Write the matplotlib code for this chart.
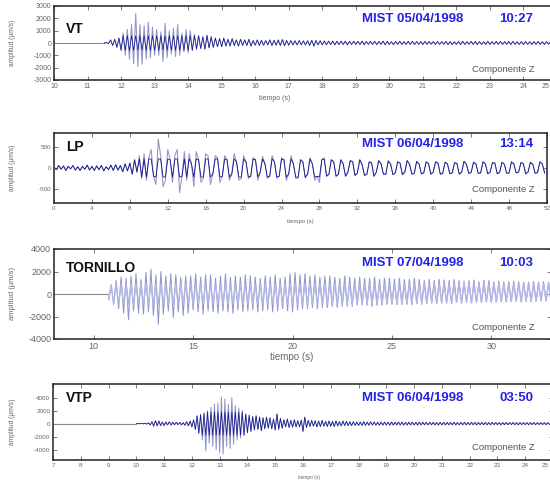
import matplotlib
matplotlib.use('Agg')
import matplotlib.pyplot as plt
import matplotlib.transforms as mtransforms
import numpy as np

plt.rcParams['font.family'] = ['Liberation Sans', 'DejaVu Sans']
plt.rcParams['axes.unicode_minus'] = False

W, H = 550, 483
LIGHT = '#9196c6'
DARK = '#16168c'
LAVENDER = '#b3b7e6'
BASE = '#8a8a8a'
TICKC = '#666666'

# --- VT, 05/04/1998 10:27 ---------------------------------------------
vt_onset = 11.5
vt_dt = 0.0625
vt_trace = [
    0, 30, -50, 250, -200, 300, -350, 400, -600, 800, -1000, 1100, -1300, 1500, -1700, 2400,
    -1900, 1500, -1700, 1400, -1300, 1700, -1200, 1300, -1000, 1100, -1000, 900, -1500, 1600, -1200, 1000,
    -900, 1200, -1100, 1500, -1000, 800, -700, 1100, -800, 1000, -600, 700, -500, 600, -450, 500,
    -500, 650, -400, 500, -350, 400, -300, 350, -300, 400, -250, 300, -250, 350, -200, 250,
    -250, 300, -200, 250, -200, 300, -250, 200, -180, 250, -200, 220, -180, 200, -150, 250,
    -200, 220, -180, 250, -200, 280, -220, 200, -180, 200, -150, 180, -160, 200, -150, 170,
    -150, 180, -200, 220, -250, 200, -150, 180, -150, 160, -140, 150, -130, 160, -150, 140,
    -130, 150, -120, 140, -150, 130, -120, 140, -110, 130, -120, 150, -140, 120, -110, 130,
    -120, 140, -130, 120, -110, 150, -140, 130, -120, 110, -130, 120, -110, 140, -120, 110,
    -110, 130, -120, 140, -130, 120, -110, 100, -120, 130, -110, 120, -100, 110, -120, 130,
    -120, 110, -100, 120, -130, 110, -120, 100, -110, 120, -130, 140, -120, 110, -100, 120,
    -110, 120, -130, 110, -120, 100, -110, 130, -120, 110, -100, 120, -110, 130, -120, 110,
    -100, 110, -120, 130, -110, 100, -120, 110, -130, 120, -110, 100, -120, 110, -100, 120,
    -110, 100, -120, 110, -100, 120, -110, 100, -90, 110, -100, 90, -110, 100, -90, 100,
]

# --- LP, 06/04/1998 13:14 ---------------------------------------------
lp_onset = 0.0
lp_dt = 0.25
lp_trace = [
    20, -40, 60, -30, 50, -60, 40, -20,
    60, -50, 30, -60, 40, -30, 70, -50,
    40, -60, 50, -40, 60, -70, 30, -40,
    70, -60, 80, -50, 60, -90, 100, -70,
    120, -150, 200, -100, 300, -250, 350, -300,
    250, 450, -200, -400, 700, 300, -450, -300,
    450, 200, -350, 300, 450, -600, -200, 400,
    -300, 350, 100, -450, 400, 200, -350, -250,
    350, 300, -400, -150, 300, 250, -350, -200,
    300, 200, -300, -150, 350, 150, -300, -250,
    300, 150, -250, -200, 250, 200, -300, -100,
    280, 100, -250, -200, 300, 150, -250, -200,
    250, 200, -300, -150, 300, 100, -250, -250,
    200, 150, -250, -150, 250, 100, -300, -200,
    -350, 200, 250, -200, -150, 200, 150, -200,
    -150, 200, 100, -200, -100, 180, 150, -180,
    -120, 200, 80, -180, -150, 150, 120, -200,
    -100, 180, 100, -150, -150, 170, 100, -160,
    -120, 150, 120, -160, -100, 180, 90, -150,
    -130, 160, 100, -140, -120, 150, 110, -150,
    -100, 150, 120, -150, -130, 140, 100, -140,
    -120, 130, 110, -150, -100, 160, 90, -130,
    -110, 140, 100, -130, -120, 150, 100, -140,
    -100, 130, 120, -140, -110, 140, 90, -130,
    -120, 150, 100, -120, -100, 130, 110, -140,
    -100, 140, 90, -130, -110, 150, 100, -120,
]

# --- TORNILLO, 07/04/1998 10:03 ---------------------------------------
tor_onset = 10.75
tor_dt = 0.125
tor_trace = [
    -500, 800, -900, 1200, -1300, 1500, -1700, 1400,
    -2300, 1600, -1500, 1800, -1700, 1300, -1800, 1900,
    -1600, 2200, -1900, 1700, -2700, 2000, -1800, 1600,
    -1500, 1800, -2100, 1700, -1600, 1500, -1900, 1600,
    -1700, 1600, -1400, 1800, -1600, 1500, -1800, 1700,
    -1500, 1700, -1600, 1400, -1700, 1600, -1500, 1800,
    -1600, 1500, -1700, 1600, -1400, 1500, -1600, 1700,
    -1500, 1600, -1400, 1500, -1600, 1400, -1500, 1600,
    -1400, 1500, -1600, 1700, -1500, 1400, -1300, 1500,
    -1500, 1800, -1600, 1900, -1400, 1700, -1300, 1800,
    -1300, 1600, -1200, 1700, -1300, 1500, -1200, 1600,
    -1200, 1600, -1100, 1500, -1200, 1400, -1100, 1600,
    -1100, 1500, -1100, 1400, -1000, 1500, -1000, 1400,
    -1000, 1400, -1100, 1500, -1000, 1300, -1000, 1400,
    -900, 1400, -900, 1300, -950, 1400, -900, 1300,
    -900, 1300, -950, 1400, -850, 1300, -900, 1200,
    -850, 1300, -800, 1200, -850, 1300, -800, 1250,
    -800, 1200, -850, 1300, -750, 1200, -800, 1150,
    -750, 1200, -800, 1250, -750, 1100, -750, 1200,
    -700, 1200, -750, 1100, -700, 1150, -700, 1100,
    -700, 1100, -650, 1150, -650, 1100, -700, 1050,
    -650, 1050, -700, 1100, -650, 1050, -600, 1100,
    -600, 1050, -600, 1000, -650, 1050, -600, 1000,
]

# --- VTP, 06/04/1998 03:50 --------------------------------------------
vtp_onset = 10.0
vtp_dt = 0.0625
vtp_trace = [
    0, 20, -30, 50, -40, 60, -80, 120, -200, 300, -400, 450, -350, 400, -300, 250,
    -300, 250, -200, 280, -220, 200, -180, 220, -150, 180, -200, 150, -250, 300, -350, 400,
    -500, 600, -900, 1200, -1500, 1400, -2500, 1600, -4200, 2000, -3000, 2500, -3500, 3000, -4000, 3200,
    -4500, 4100, -4700, 3800, -3500, 3000, -3800, 4000, -3200, 2800, -2500, 2400, -2200, 2000, -1800, 1500,
    -1400, 1300, -1200, 1100, -1000, 1200, -900, 1000, -1100, 900, -800, 1000, -700, 900, -800, 700,
    -1000, 1500, -900, 800, -700, 600, -500, 700, -600, 500, -550, 600, -500, 450, -500, 550,
    -1200, 1000, -600, 500, -450, 500, -400, 450, -500, 400, -450, 500, -400, 350, -450, 400,
    -400, 350, -450, 400, -350, 300, -350, 400, -300, 350, -300, 280, -320, 300, -280, 260,
    -300, 250, -280, 300, -260, 240, -250, 270, -230, 250, -240, 220, -250, 230, -220, 240,
    -220, 230, -240, 250, -230, 220, -200, 240, -210, 220, -230, 200, -210, 220, -200, 210,
    -210, 200, -220, 230, -200, 210, -190, 220, -210, 200, -190, 210, -200, 190, -210, 200,
    -200, 190, -210, 200, -180, 200, -190, 210, -200, 180, -190, 200, -180, 190, -200, 180,
    -190, 200, -180, 190, -200, 180, -170, 190, -180, 200, -190, 170, -180, 190, -170, 180,
    -180, 170, -190, 180, -170, 190, -180, 170, -160, 180, -170, 160, -180, 170, -160, 170,
    -170, 160, -180, 170, -160, 180, -170, 160, -150, 170, -160, 150, -170, 160, -150, 160,
]

panel_names = ['VT', 'LP', 'TORNILLO', 'VTP']
panel_dates = ['MIST 05/04/1998', 'MIST 06/04/1998', 'MIST 07/04/1998', 'MIST 06/04/1998']
panel_hours = ['10:27', '13:14', '10:03', '03:50']

fig = plt.figure(figsize=(W / 100, H / 100), dpi=100)


def px_axes(left, top, right, bottom):
    return fig.add_axes([left / W, 1 - bottom / H, (right - left) / W, (bottom - top) / H])


def px_text(x, y, s, **kw):
    fig.text(x / W, 1 - y / H, s, **kw)


def draw_trace(ax, xmin, onset, dt, trace, band, band_color, band_lw):
    t = onset + dt * np.arange(len(trace))
    if onset > xmin:
        ax.plot([xmin, onset], [0, 0], color=BASE, lw=0.8, zorder=2)
    ax.plot(t, trace, color=LIGHT, lw=0.75, zorder=3)
    # the dense middle of the record prints darker, like overlapping ink
    ax.plot(t, np.clip(trace, -band, band), color=band_color, lw=band_lw, zorder=4)


def style(ax, xlim, ylim, xticks, yticks, fs):
    ax.set_xlim(xlim)
    ax.set_ylim(ylim)
    ax.set_xticks(xticks)
    ax.set_yticks(yticks)
    ax.tick_params(direction='in', top=True, right=True, length=3, width=0.6,
                   color=TICKC, labelcolor=TICKC, labelsize=fs, pad=2)
    for sp in ax.spines.values():
        sp.set_linewidth(1.1)
        sp.set_color('#222222')


def pull_last_label(ax, dx_px):
    lbl = ax.get_xticklabels()[-1]
    lbl.set_horizontalalignment('right')
    lbl.set_transform(lbl.get_transform()
                      + mtransforms.ScaledTranslation(dx_px / 100, 0, fig.dpi_scale_trans))


# panel boxes in pixels: left, top, right, bottom
boxes = [(54, 6, 557, 80), (54, 133, 547, 203), (54, 249, 551, 339), (53, 384, 553, 460)]

ax1 = px_axes(*boxes[0])
draw_trace(ax1, 10, vt_onset, vt_dt, vt_trace, 600, DARK, 0.5)
style(ax1, (10, 25), (-3000, 3000), np.arange(10, 26, 1), np.arange(-3000, 3001, 1000), 5)
pull_last_label(ax1, -8)

ax2 = px_axes(*boxes[1])
draw_trace(ax2, 0, lp_onset, lp_dt, lp_trace, 220, DARK, 0.6)
style(ax2, (0, 52), (-850, 850), np.arange(0, 53, 4), [-500, 0, 500], 4.5)

ax3 = px_axes(*boxes[2])
draw_trace(ax3, 8, tor_onset, tor_dt, tor_trace, 900, LAVENDER, 1.0)
style(ax3, (8, 33), (-4000, 4000), [10, 15, 20, 25, 30], np.arange(-4000, 4001, 2000), 6.5)

ax4 = px_axes(*boxes[3])
draw_trace(ax4, 7, vtp_onset, vtp_dt, vtp_trace, 1800, DARK, 0.5)
style(ax4, (7, 25), (-5600, 6100), np.arange(7, 26, 1), np.arange(-4000, 4001, 2000), 4.5)
pull_last_label(ax4, -4)

# labels inside each panel
name_y = [29, 147, 268, 398]
date_y = [19, 144, 263, 398]
comp_y = [70, 189, 328, 448]
for i in range(4):
    px_text(66, name_y[i], panel_names[i], fontsize=10, fontweight='bold',
            color='#111111', va='center', ha='left')
    px_text(362, date_y[i], panel_dates[i], fontsize=9.5, fontweight='bold',
            color='#2323e6', va='center', ha='left')
    px_text(533, date_y[i], panel_hours[i], fontsize=9.5, fontweight='bold',
            color='#2323e6', va='center', ha='right')
    px_text(535, comp_y[i], 'Componente Z', fontsize=6.8, color='#555555',
            va='center', ha='right')

# axis titles
ylab_fs = [4.8, 4.8, 5.5, 4.8]
for i, (l, t, r, b) in enumerate(boxes):
    px_text(12, (t + b) / 2, 'amplitud (µm/s)', fontsize=ylab_fs[i], color='#666666',
            rotation=90, va='center', ha='center')

px_text(275, 98, 'tiempo (s)', fontsize=5, color='#666666', ha='center', va='center')
px_text(300, 222, 'tiempo (s)', fontsize=4.3, color='#666666', ha='center', va='center')
px_text(292, 357, 'tiempo (s)', fontsize=7, color='#666666', ha='center', va='center')
px_text(309, 477, 'tiempo (s)', fontsize=3.5, color='#666666', ha='center', va='center')

fig.savefig('out.png', dpi=100)
